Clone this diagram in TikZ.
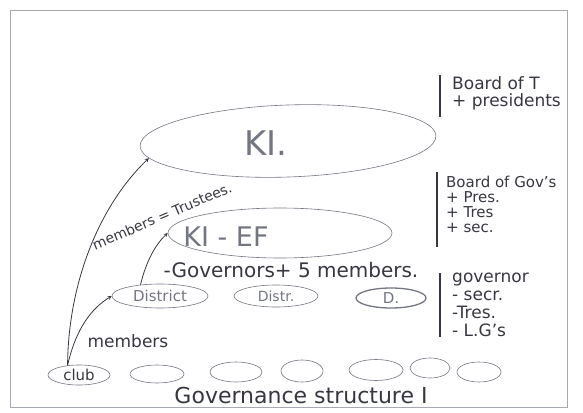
\documentclass[tikz,border=0pt]{standalone}
\usepackage{fontspec}
\setmainfont{DejaVu Sans}
\usetikzlibrary{shapes.geometric,positioning}

\definecolor{pencil}{RGB}{55,55,65}
\definecolor{softpencil}{RGB}{115,118,130}
\definecolor{paperline}{RGB}{165,170,180}

\tikzset{
  blob/.style={ellipse,draw=softpencil,inner sep=0pt,semithick},
  note/.style={anchor=north west,align=left,text=pencil,inner sep=0pt,font=\fontsize{16}{17}\selectfont},
  link/.style={->,>=stealth,pencil,thick},
  bar/.style={pencil,line width=1.5pt}
}

\begin{document}
\begin{tikzpicture}[x=1pt,y=-1pt]
  \useasboundingbox (0,0) rectangle (583,412);
  \draw[paperline] (10,10) rectangle (567,407);

  % the big ellipses
  \node[blob,rotate=2,minimum width=296pt,minimum height=72pt] (ki) at (288,141) {};
  \node[text=softpencil,font=\fontsize{34}{34}\selectfont] (kilabel) at (266,143) {KI.};
  \node[blob,minimum width=224pt,minimum height=50pt] (kief) at (280,233) {};
  \node[text=softpencil,font=\fontsize{27}{27}\selectfont] (kieflabel) at (226,237) {KI - EF};

  % districts
  \node[blob,minimum width=96pt,minimum height=24pt,font=\fontsize{15}{15}\selectfont,text=softpencil] (district) at (160,296) {District};
  \node[blob,minimum width=84pt,minimum height=22pt,font=\fontsize{14}{14}\selectfont,text=softpencil] (distr) at (276,296) {Distr.};
  \node[blob,line width=1.3pt,minimum width=70pt,minimum height=20pt,font=\fontsize{15}{15}\selectfont,text=softpencil] (dee) at (391,298) {D.};

  % clubs
  \node[blob,minimum width=62pt,minimum height=20pt,font=\fontsize{15}{15}\selectfont,text=pencil] (club) at (79,375) {club};
  \foreach \cx/\cy/\w/\h [count=\i] in {157/374/54/18, 236/372/52/20, 302/371/42/22, 376/370/54/21, 430/368/40/20, 479/372/44/20}
    \node[blob,minimum width=\w pt,minimum height=\h pt] (cell\i) at (\cx,\cy) {};

  % arrows
  \draw[link] (club.140) .. controls (68,290) and (95,210) .. (ki.185);
  \draw[link] (club.140) .. controls (76,328) and (92,308) .. (district.west);
  \draw[link] (district.150) .. controls (146,262) and (155,245) .. (kief.west);

  \node[text=pencil,font=\fontsize{14}{14}\selectfont,rotate=23] (trustees) at (162,216) {members = Trustees.};
  \node[text=pencil,font=\fontsize{20}{20}\selectfont] (governors) at (291,270) {-Governors+ 5 members.};
  \node[text=pencil,font=\fontsize{17}{17}\selectfont] (members) at (128,341) {members};
  \node[text=pencil,font=\fontsize{22}{22}\selectfont] (caption) at (301,395) {Governance structure I};

  % right hand notes
  \draw[bar] (440,75) -- (440,117);
  \node[note,font=\fontsize{17}{17}\selectfont] (boardt) at (452,76) {Board of T\\+ presidents};
  \draw[bar] (437,172) -- (437,247);
  \node[note,font=\fontsize{15}{15}\selectfont] (boardg) at (446,176) {Board of Gov's\\+ Pres.\\+ Tres\\+ sec.};
  \draw[bar] (440,273) -- (440,337);
  \node[note,font=\fontsize{17}{18}\selectfont] (gov) at (452,273) {governor\\- secr.\\-Tres.\\- L.G's};
\end{tikzpicture}
\end{document}
